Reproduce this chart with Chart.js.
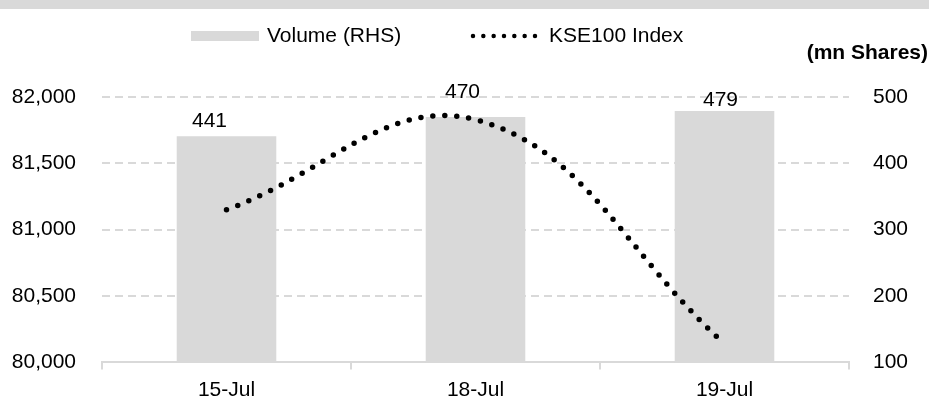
<!DOCTYPE html>
<html>
<head>
<meta charset="utf-8">
<script src="https://cdn.jsdelivr.net/npm/chart.js@4.4.1/dist/chart.umd.min.js"></script>
<style>
  html, body { margin: 0; padding: 0; background: #fff; }
  #wrap { position: relative; width: 929px; height: 401px; }
  #band { position: absolute; left: 0; top: 0; width: 929px; height: 9px; background: #d9d9d9; }
  canvas { position: absolute; left: 0; top: 0; }
</style>
</head>
<body>
<div id="wrap">
  <canvas id="chart" width="929" height="401"></canvas>
  <div id="band"></div>
</div>
<script>
const categories = ['15-Jul', '18-Jul', '19-Jul'];
const volume = [441, 470, 479];
const kse100 = [81150, 81830, 80140];
const leftTicks = [80000, 80500, 81000, 81500, 82000];
const rightTicks = [100, 200, 300, 400, 500];

const FONT = "'Liberation Sans', Arial, sans-serif";
const GREY = '#d9d9d9';
// hand-placed label nudges, like the original
const labelDx = [-17, -13, -4];
const labelDy = [-9, -19, -5];

const overlay = {
    id: 'overlay',
    afterDraw(chart) {
        const ctx = chart.ctx;
        ctx.save();
        ctx.fillStyle = '#000';
        ctx.font = '21px ' + FONT;

        // bar value labels
        const meta = chart.getDatasetMeta(1);
        ctx.textAlign = 'center';
        ctx.textBaseline = 'alphabetic';
        meta.data.forEach((bar, i) => {
            ctx.fillText(String(volume[i]), bar.x + labelDx[i], bar.y + labelDy[i]);
        });

        // legend
        ctx.textAlign = 'left';
        ctx.textBaseline = 'middle';
        ctx.fillStyle = GREY;
        ctx.fillRect(191, 31, 68, 10);
        ctx.fillStyle = '#000';
        ctx.fillText('Volume (RHS)', 267, 36);

        ctx.beginPath();
        ctx.setLineDash([0, 10.33]);
        ctx.lineCap = 'round';
        ctx.lineWidth = 4.5;
        ctx.strokeStyle = '#000';
        ctx.moveTo(473, 36);
        ctx.lineTo(536, 36);
        ctx.stroke();
        ctx.setLineDash([]);
        ctx.fillText('KSE100 Index', 549, 36);

        // unit of right axis
        ctx.font = 'bold 21px ' + FONT;
        ctx.textAlign = 'right';
        ctx.fillText('(mn Shares)', 928, 53);
        ctx.restore();
    }
};

new Chart(document.getElementById('chart'), {
    data: {
        labels: categories,
        datasets: [
            {
                type: 'line',
                label: 'KSE100 Index',
                data: kse100,
                yAxisID: 'y',
                borderColor: '#000',
                borderWidth: 5.5,
                borderDash: [0, 12],
                borderCapStyle: 'round',
                pointRadius: 0,
                tension: 0.4,
                fill: false,
                order: 0
            },
            {
                type: 'bar',
                label: 'Volume (RHS)',
                data: volume,
                yAxisID: 'y1',
                backgroundColor: GREY,
                borderWidth: 0,
                categoryPercentage: 1,
                barPercentage: 0.4,
                order: 1
            }
        ]
    },
    options: {
        responsive: false,
        animation: false,
        devicePixelRatio: 1,
        layout: { padding: { top: 97, left: 0, right: 0, bottom: 0 } },
        plugins: {
            legend: { display: false },
            tooltip: { enabled: false }
        },
        scales: {
            x: {
                offset: true,
                grid: {
                    display: true,
                    drawOnChartArea: false,
                    drawTicks: true,
                    tickLength: 7,
                    color: GREY,
                    lineWidth: 2,
                    offset: true
                },
                border: { display: true, color: GREY, width: 2 },
                ticks: { color: '#000', font: { family: FONT, size: 21 }, padding: 8 },
                afterFit: s => { s.height = 38; }
            },
            y: {
                position: 'left',
                min: 80000,
                max: 82000,
                afterBuildTicks: s => { s.ticks = leftTicks.map(v => ({ value: v })); },
                ticks: {
                    color: '#000',
                    font: { family: FONT, size: 21 },
                    padding: 26,
                    callback: v => v.toLocaleString('en-US')
                },
                grid: { color: GREY, lineWidth: 2, drawTicks: false },
                border: { display: false, dash: [8, 5] },
                afterFit: s => { s.width = 102; }
            },
            y1: {
                position: 'right',
                min: 100,
                max: 500,
                afterBuildTicks: s => { s.ticks = rightTicks.map(v => ({ value: v })); },
                ticks: { color: '#000', font: { family: FONT, size: 21 }, padding: 24 },
                grid: { display: false, drawTicks: false },
                border: { display: false },
                afterFit: s => { s.width = 80; }
            }
        }
    },
    plugins: [overlay]
});
</script>
</body>
</html>
